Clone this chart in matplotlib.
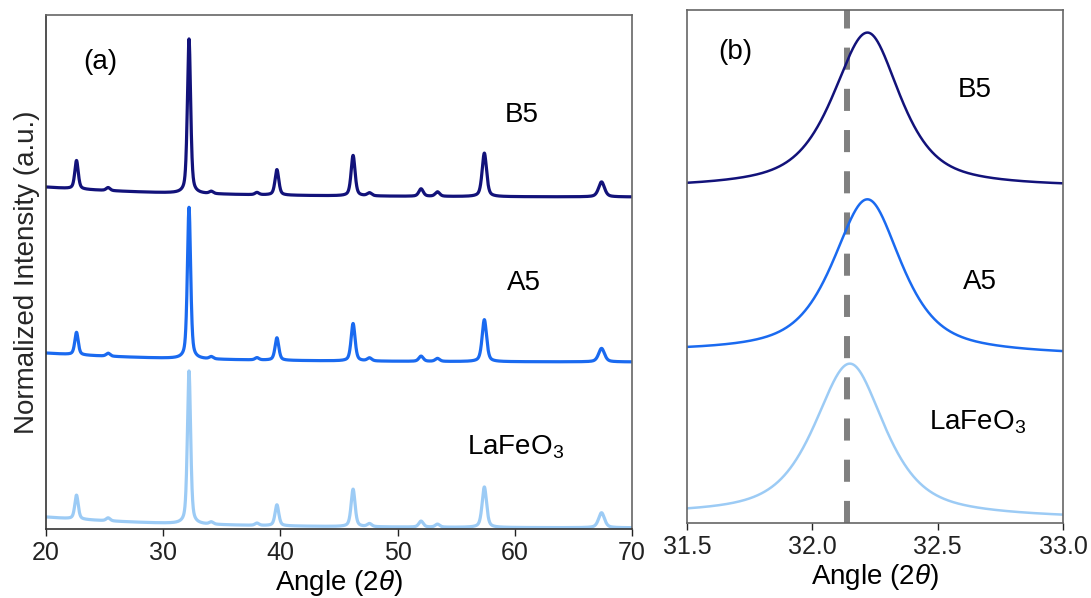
import numpy as np
import matplotlib
matplotlib.use('Agg')
from matplotlib import pyplot as plt

plt.rcParams['font.family'] = ['Liberation Sans', 'DejaVu Sans']
plt.rcParams['mathtext.fontset'] = 'custom'
plt.rcParams['mathtext.rm'] = 'Liberation Sans'
plt.rcParams['mathtext.it'] = 'Liberation Sans:italic'
plt.rcParams['mathtext.default'] = 'regular'

# Muestras y colores
samples = ['B5', 'A5', 'LaFeO$_3$']
colors = ['#12127a', '#1a6af0', '#9ccbf5']

# Panel (a): picos del difractograma completo (posición, FWHM)
peak_pos = [22.6, 25.3, 32.2, 34.1, 38.0, 39.7, 46.2, 47.6, 52.0, 53.4, 57.4, 67.4]
peak_fwhm = [0.35, 0.4, 0.33, 0.4, 0.4, 0.38, 0.4, 0.45, 0.45, 0.45, 0.45, 0.6]
# alturas relativas sobre la línea base (pico principal ~1)
heights_b5 = [0.19, 0.02, 1.03, 0.015, 0.015, 0.17, 0.27, 0.02, 0.05, 0.03, 0.29, 0.10]
heights_a5 = [0.15, 0.02, 1.01, 0.015, 0.015, 0.15, 0.25, 0.02, 0.035, 0.02, 0.28, 0.09]
heights_la = [0.16, 0.02, 1.02, 0.015, 0.015, 0.14, 0.25, 0.02, 0.04, 0.02, 0.27, 0.10]
offsets_a = [2.213, 1.113, 0.007]   # línea base al final (70°)
bg_amp_a = [0.067, 0.06, 0.073]     # caída del fondo desde 20°

# Panel (b): pico principal ampliado
center_b = [32.22, 32.22, 32.15]
height_b = [1.035, 1.03, 1.02]
hwhm_left_b = [0.165, 0.165, 0.17]
hwhm_right_b = [0.155, 0.16, 0.165]
base_left_b = [2.232, 1.138, 0.052]
base_right_b = [2.237, 1.117, 0.030]
ref_line = 32.14


def pseudo_voigt(x, c, h, hw, eta=0.5):
    d = (x - c) / hw
    return h * (eta / (1 + d ** 2) + (1 - eta) * np.exp(-np.log(2) * d ** 2))


fig = plt.figure(figsize=(10.91, 5.98), dpi=100)
ax1 = fig.add_axes([0.0422, 0.1154, 0.5371, 0.8595])
ax2 = fig.add_axes([0.6297, 0.1254, 0.3446, 0.8579])

# Panel (a)
x = np.linspace(20, 70, 5001)
for k, hts in enumerate([heights_b5, heights_a5, heights_la]):
    y = offsets_a[k] + bg_amp_a[k] * np.exp(-(x - 20) / 12)
    for p, w, h in zip(peak_pos, peak_fwhm, hts):
        y = y + pseudo_voigt(x, p, h, w / 2)
    ax1.plot(x, y, color=colors[k], lw=2.3)

ax1.set_xlim(20, 70)
ax1.set_ylim(0, 3.427)
ax1.set_xticks([20, 30, 40, 50, 60, 70])
ax1.set_yticks([])
ax1.set_xlabel('Angle (2$\\mathit{\\theta}$)', fontsize=20, labelpad=2)
ax1.set_ylabel('Normalized Intensity (a.u.)', fontsize=20, color='#262626')
ax1.text(0.063, 0.909, '(a)', transform=ax1.transAxes, fontsize=20, va='center')
for lab, (tx, ty) in zip(samples, [(0.783, 0.805), (0.787, 0.479), (0.718, 0.16)]):
    ax1.text(tx, ty, lab, transform=ax1.transAxes, fontsize=20, va='center')

# Panel (b)
xb = np.linspace(31.5, 33.0, 1501)
for k in range(3):
    base = base_left_b[k] + (base_right_b[k] - base_left_b[k]) * (xb - 31.5) / 1.5
    hw = np.where(xb < center_b[k], hwhm_left_b[k], hwhm_right_b[k])
    ax2.plot(xb, base + pseudo_voigt(xb, center_b[k], height_b[k], hw, eta=0.7),
             color=colors[k], lw=1.8)

ax2.axvline(ref_line, color='#808080', lw=4.3, dashes=(3.7, 3.2), zorder=0)
ax2.set_xlim(31.5, 33.0)
ax2.set_ylim(0, 3.42)
ax2.set_xticks([31.5, 32.0, 32.5, 33.0])
ax2.set_xticklabels(['31.5', '32.0', '32.5', '33.0'])
ax2.set_yticks([])
ax2.set_xlabel('Angle (2$\\mathit{\\theta}$)', fontsize=20, labelpad=2)
ax2.text(0.082, 0.918, '(b)', transform=ax2.transAxes, fontsize=20, va='center')
for lab, (tx, ty) in zip(samples, [(0.721, 0.844), (0.734, 0.47), (0.644, 0.197)]):
    ax2.text(tx, ty, lab, transform=ax2.transAxes, fontsize=20, va='center')

for ax in (ax1, ax2):
    ax.tick_params(axis='x', labelsize=18, direction='out', length=5, width=1, colors='#222222')
    for s in ax.spines.values():
        s.set_color('#666666')
        s.set_linewidth(1.2)
ax1.spines['left'].set_color('#333333')
ax1.spines['bottom'].set_color('#333333')

fig.savefig('out.png', dpi=100)
